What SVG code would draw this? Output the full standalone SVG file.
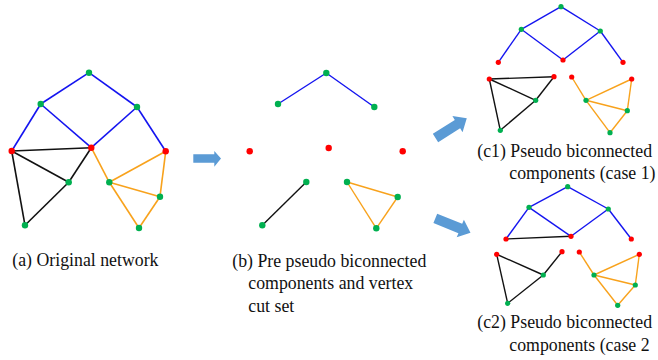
<svg xmlns="http://www.w3.org/2000/svg" width="658" height="360" viewBox="0 0 658 360">
<style>
.bl{stroke:#1414F0;fill:none}
.bk{stroke:#111;fill:none}
.or{stroke:#F8A21C;fill:none}
.w1 line{stroke-width:1.6}
.w2 line{stroke-width:1.4}
.g{fill:#00B050}
.r{fill:#FF0000}
.arr{fill:#5B9BD5}
text{font-family:"Liberation Serif","Times New Roman",serif;font-size:17.8px;fill:#111}
</style>
<rect width="658" height="360" fill="#fff"/>
<g id="connectors">
<g id="edges-a" class="w1">
<line class="bl" x1="89" y1="72.7" x2="40.7" y2="104"/>
<line class="bl" x1="89" y1="72.7" x2="137" y2="107"/>
<line class="bl" x1="40.7" y1="104" x2="11.7" y2="151"/>
<line class="bl" x1="40.7" y1="104" x2="91.3" y2="147.7"/>
<line class="bl" x1="137" y1="107" x2="91.3" y2="147.7"/>
<line class="bl" x1="137" y1="107" x2="165.7" y2="151.3"/>
<line class="bk" x1="11.7" y1="151" x2="91.3" y2="147.7"/>
<line class="bk" x1="11.7" y1="151" x2="68.7" y2="182.3"/>
<line class="bk" x1="91.3" y1="147.7" x2="68.7" y2="182.3"/>
<line class="bk" x1="11.7" y1="151" x2="25" y2="225.3"/>
<line class="bk" x1="68.7" y1="182.3" x2="25" y2="225.3"/>
<line class="or" x1="91.3" y1="147.7" x2="109.3" y2="182.3"/>
<line class="or" x1="109.3" y1="182.3" x2="165.7" y2="151.3"/>
<line class="or" x1="165.7" y1="151.3" x2="160" y2="196.7"/>
<line class="or" x1="109.3" y1="182.3" x2="160" y2="196.7"/>
<line class="or" x1="109.3" y1="182.3" x2="139" y2="228"/>
<line class="or" x1="160" y1="196.7" x2="139" y2="228"/>
</g>
<g id="edges-b" class="w2">
<line class="bl" x1="326.3" y1="73" x2="278" y2="104"/>
<line class="bl" x1="326.3" y1="73" x2="374.3" y2="107"/>
<line class="bk" x1="306.3" y1="182" x2="262.3" y2="225.3"/>
<line class="or" x1="347" y1="182" x2="397.7" y2="197"/>
<line class="or" x1="397.7" y1="197" x2="376.3" y2="228.3"/>
<line class="or" x1="347" y1="182" x2="376.3" y2="228.3"/>
</g>
<g id="edges-c1" class="w2">
<line class="bl" x1="561" y1="6.7" x2="521.3" y2="29.3"/>
<line class="bl" x1="561" y1="6.7" x2="600.3" y2="31"/>
<line class="bl" x1="521.3" y1="29.3" x2="498.3" y2="62.3"/>
<line class="bl" x1="521.3" y1="29.3" x2="563" y2="60"/>
<line class="bl" x1="600.3" y1="31" x2="563" y2="60"/>
<line class="bl" x1="600.3" y1="31" x2="623" y2="62.3"/>
<line class="bk" x1="489.3" y1="79" x2="554" y2="76.7"/>
<line class="bk" x1="489.3" y1="79" x2="535.7" y2="100.3"/>
<line class="bk" x1="554" y1="76.7" x2="535.7" y2="100.3"/>
<line class="bk" x1="489.3" y1="79" x2="500.3" y2="130.3"/>
<line class="bk" x1="535.7" y1="100.3" x2="500.3" y2="130.3"/>
<line class="or" x1="571.7" y1="77" x2="586" y2="100.3"/>
<line class="or" x1="586" y1="100.3" x2="631.7" y2="79"/>
<line class="or" x1="631.7" y1="79" x2="627.3" y2="110.7"/>
<line class="or" x1="586" y1="100.3" x2="627.3" y2="110.7"/>
<line class="or" x1="586" y1="100.3" x2="610" y2="132.7"/>
<line class="or" x1="627.3" y1="110.7" x2="610" y2="132.7"/>
</g>
<g id="edges-c2" class="w2">
<line class="bl" x1="567.7" y1="186.7" x2="529" y2="207.3"/>
<line class="bl" x1="567.7" y1="186.7" x2="608.3" y2="209"/>
<line class="bl" x1="529" y1="207.3" x2="506" y2="239"/>
<line class="bl" x1="529" y1="207.3" x2="571" y2="236.3"/>
<line class="bl" x1="608.3" y1="209" x2="571" y2="236.3"/>
<line class="bl" x1="608.3" y1="209" x2="631.3" y2="239"/>
<line class="bk" x1="506" y1="239" x2="571" y2="236.3"/>
<line class="bk" x1="496.7" y1="254.3" x2="543.3" y2="275"/>
<line class="bk" x1="562" y1="251.7" x2="543.3" y2="275"/>
<line class="bk" x1="496.7" y1="254.3" x2="507.7" y2="303.3"/>
<line class="bk" x1="543.3" y1="275" x2="507.7" y2="303.3"/>
<line class="or" x1="579.3" y1="252" x2="594" y2="275"/>
<line class="or" x1="594" y1="275" x2="639.3" y2="254.3"/>
<line class="or" x1="639.3" y1="254.3" x2="635.3" y2="285"/>
<line class="or" x1="594" y1="275" x2="635.3" y2="285"/>
<line class="or" x1="594" y1="275" x2="617.7" y2="305.3"/>
<line class="or" x1="635.3" y1="285" x2="617.7" y2="305.3"/>
</g>
</g>
<g id="arrows">
<path id="arrow-ab" class="arr" d="M193.3,154.3 L214.3,154.3 L214.3,151 L221,158.6 L214.3,166.7 L214.3,162.8 L193.3,162.8 Z"/>
<path id="arrow-bc1" class="arr" transform="translate(435.5,138) rotate(-32.3)" d="M0,-5 L26,-5 L26,-9.5 L37,0 L26,9.5 L26,5 L0,5 Z"/>
<path id="arrow-bc2" class="arr" transform="translate(435.3,218.3) rotate(22.2)" d="M0,-5 L27,-5 L27,-9.5 L38,0 L27,9.5 L27,5 L0,5 Z"/>
</g>
<g id="nodes-a">
<g id="a1"><circle class="g" cx="89" cy="72.7" r="3.2"/></g>
<g id="a2"><circle class="g" cx="40.7" cy="104" r="3.2"/></g>
<g id="a3"><circle class="g" cx="137" cy="107" r="3.2"/></g>
<g id="a4"><circle class="r" cx="11.7" cy="151" r="3.2"/></g>
<g id="a5"><circle class="r" cx="91.3" cy="147.7" r="3.2"/></g>
<g id="a6"><circle class="r" cx="165.7" cy="151.3" r="3.2"/></g>
<g id="a7"><circle class="g" cx="68.7" cy="182.3" r="3.2"/></g>
<g id="a8"><circle class="g" cx="25" cy="225.3" r="3.2"/></g>
<g id="a9"><circle class="g" cx="109.3" cy="182.3" r="3.2"/></g>
<g id="a10"><circle class="g" cx="160" cy="196.7" r="3.2"/></g>
<g id="a11"><circle class="g" cx="139" cy="228" r="3.2"/></g>
</g>
<g id="nodes-b">
<g id="b1"><circle class="g" cx="326.3" cy="73" r="3.2"/></g>
<g id="b2"><circle class="g" cx="278" cy="104" r="3.2"/></g>
<g id="b3"><circle class="g" cx="374.3" cy="107" r="3.2"/></g>
<g id="b4"><circle class="r" cx="249.7" cy="151.3" r="3.2"/></g>
<g id="b5"><circle class="r" cx="328.7" cy="148" r="3.2"/></g>
<g id="b6"><circle class="r" cx="402.7" cy="151.3" r="3.2"/></g>
<g id="b7"><circle class="g" cx="306.3" cy="182" r="3.2"/></g>
<g id="b8"><circle class="g" cx="262.3" cy="225.3" r="3.2"/></g>
<g id="b9"><circle class="g" cx="347" cy="182" r="3.2"/></g>
<g id="b10"><circle class="g" cx="397.7" cy="197" r="3.2"/></g>
<g id="b11"><circle class="g" cx="376.3" cy="228.3" r="3.2"/></g>
</g>
<g id="nodes-c1">
<g id="c1-1"><circle class="g" cx="561" cy="6.7" r="2.6"/></g>
<g id="c1-2"><circle class="g" cx="521.3" cy="29.3" r="2.6"/></g>
<g id="c1-3"><circle class="g" cx="600.3" cy="31" r="2.6"/></g>
<g id="c1-4"><circle class="r" cx="498.3" cy="62.3" r="2.6"/></g>
<g id="c1-5"><circle class="r" cx="563" cy="60" r="2.6"/></g>
<g id="c1-6"><circle class="r" cx="623" cy="62.3" r="2.6"/></g>
<g id="c1-7"><circle class="r" cx="489.3" cy="79" r="2.6"/></g>
<g id="c1-8"><circle class="r" cx="554" cy="76.7" r="2.6"/></g>
<g id="c1-9"><circle class="g" cx="535.7" cy="100.3" r="2.6"/></g>
<g id="c1-10"><circle class="g" cx="500.3" cy="130.3" r="2.6"/></g>
<g id="c1-11"><circle class="r" cx="571.7" cy="77" r="2.6"/></g>
<g id="c1-12"><circle class="r" cx="631.7" cy="79" r="2.6"/></g>
<g id="c1-13"><circle class="g" cx="586" cy="100.3" r="2.6"/></g>
<g id="c1-14"><circle class="g" cx="627.3" cy="110.7" r="2.6"/></g>
<g id="c1-15"><circle class="g" cx="610" cy="132.7" r="2.6"/></g>
</g>
<g id="nodes-c2">
<g id="c2-1"><circle class="g" cx="567.7" cy="186.7" r="2.6"/></g>
<g id="c2-2"><circle class="g" cx="529" cy="207.3" r="2.6"/></g>
<g id="c2-3"><circle class="g" cx="608.3" cy="209" r="2.6"/></g>
<g id="c2-4"><circle class="r" cx="506" cy="239" r="2.6"/></g>
<g id="c2-5"><circle class="r" cx="571" cy="236.3" r="2.6"/></g>
<g id="c2-6"><circle class="r" cx="631.3" cy="239" r="2.6"/></g>
<g id="c2-7"><circle class="r" cx="496.7" cy="254.3" r="2.6"/></g>
<g id="c2-8"><circle class="r" cx="562" cy="251.7" r="2.6"/></g>
<g id="c2-9"><circle class="g" cx="543.3" cy="275" r="2.6"/></g>
<g id="c2-10"><circle class="g" cx="507.7" cy="303.3" r="2.6"/></g>
<g id="c2-11"><circle class="r" cx="579.3" cy="252" r="2.6"/></g>
<g id="c2-12"><circle class="r" cx="639.3" cy="254.3" r="2.6"/></g>
<g id="c2-13"><circle class="g" cx="594" cy="275" r="2.6"/></g>
<g id="c2-14"><circle class="g" cx="635.3" cy="285" r="2.6"/></g>
<g id="c2-15"><circle class="g" cx="617.7" cy="305.3" r="2.6"/></g>
</g>
<g id="labels">
<text x="12.3" y="266.3">(a) Original network</text>
<text x="232.3" y="266.5">(b) Pre pseudo biconnected</text>
<text x="248.3" y="289">components and vertex</text>
<text x="248.3" y="311.5">cut set</text>
<text x="477.3" y="156.7">(c1) Pseudo biconnected</text>
<text x="509.3" y="179.3">components (case 1)</text>
<text x="477.3" y="328.3">(c2) Pseudo biconnected</text>
<text x="509.3" y="350.8">components (case 2</text>
</g>
</svg>
